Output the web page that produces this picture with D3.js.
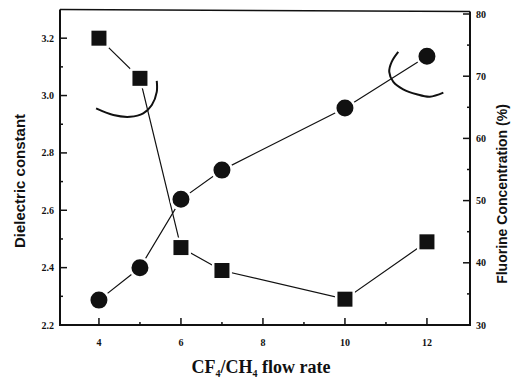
<!DOCTYPE html>
<html>
<head>
<meta charset="utf-8">
<script src="https://cdn.jsdelivr.net/npm/d3@7"></script>
<style>
  body { margin: 0; background: #fff; }
  .tick-label { font-family: "Liberation Serif", serif; font-weight: bold; font-size: 10px; fill: #111; }
  .axis-title { font-family: "Liberation Sans", Arial, sans-serif; font-weight: bold; fill: #111; }
</style>
</head>
<body>
<div id="wrapper"></div>
<script>
// data
const flowRate = [4, 5, 6, 7, 10, 12]
const dielectric = [3.20, 3.06, 2.47, 2.39, 2.29, 2.49]
const fluorine = [34.0, 39.2, 50.2, 54.9, 64.9, 73.2]

const xMajorTicks = [4, 6, 8, 10, 12]
const xMinorTicks = [5, 7, 9, 11]
const leftMajorTicks = [2.2, 2.4, 2.6, 2.8, 3.0, 3.2]
const leftMinorTicks = [2.3, 2.5, 2.7, 2.9, 3.1]
const rightMajorTicks = [30, 40, 50, 60, 70, 80]
const rightMinorTicks = [35, 45, 55, 65, 75]

// hand drawn hooks that point each series to its axis (data units)
const hookLeft = [[3.93, 2.955], [4.35, 2.932], [4.76, 2.926], [5.08, 2.938], [5.29, 2.967], [5.41, 3.013], [5.41, 3.051]]
const hookRight = [[11.30, 73.9], [11.14, 72.3], [11.08, 70.7], [11.18, 69.1], [11.42, 67.9], [11.75, 67.1], [12.07, 66.7], [12.40, 67.35]]

function drawChart() {
  const dimensions = {
    width: 520,
    height: 380,
    left: 60,
    right: 470,
    top: 9.5,
    bottom: 325,
  }

  const svg = d3.select("#wrapper")
    .append("svg")
      .attr("width", dimensions.width)
      .attr("height", dimensions.height)

  // scales
  const xScale = d3.scaleLinear()
    .domain([3.05, 13.05])
    .range([dimensions.left, dimensions.right])

  const yLeft = d3.scaleLinear()
    .domain([2.2, 3.3])
    .range([dimensions.bottom, dimensions.top])

  const yRight = d3.scaleLinear()
    .domain([30, 80])
    .range([dimensions.bottom, 14])

  // frame
  const frame = svg.append("g").attr("stroke", "#111").attr("fill", "none")
  frame.append("line")
    .attr("x1", dimensions.left).attr("x2", dimensions.right)
    .attr("y1", dimensions.top).attr("y2", dimensions.top + 2)
    .attr("stroke-width", 1.6)
  frame.append("line")
    .attr("x1", dimensions.left - 1).attr("x2", dimensions.right + 1)
    .attr("y1", dimensions.bottom).attr("y2", dimensions.bottom)
    .attr("stroke-width", 2)
  frame.append("line")
    .attr("x1", dimensions.left).attr("x2", dimensions.left)
    .attr("y1", dimensions.top).attr("y2", dimensions.bottom)
    .attr("stroke-width", 2)
  frame.append("line")
    .attr("x1", dimensions.right).attr("x2", dimensions.right)
    .attr("y1", dimensions.top + 2).attr("y2", dimensions.bottom)
    .attr("stroke-width", 2)

  // ticks, all pointing inwards
  const ticks = svg.append("g").attr("stroke", "#111").attr("stroke-width", 1.5)
  ticks.selectAll(".x-major").data(xMajorTicks).join("line")
    .attr("x1", xScale).attr("x2", xScale)
    .attr("y1", dimensions.bottom).attr("y2", dimensions.bottom - 7)
  ticks.selectAll(".x-minor").data(xMinorTicks).join("line")
    .attr("x1", xScale).attr("x2", xScale)
    .attr("y1", dimensions.bottom).attr("y2", dimensions.bottom - 3)
  ticks.selectAll(".l-major").data(leftMajorTicks).join("line")
    .attr("y1", yLeft).attr("y2", yLeft)
    .attr("x1", dimensions.left).attr("x2", dimensions.left + 7)
  ticks.selectAll(".l-minor").data(leftMinorTicks).join("line")
    .attr("y1", yLeft).attr("y2", yLeft)
    .attr("x1", dimensions.left).attr("x2", dimensions.left + 3)
  ticks.selectAll(".r-major").data(rightMajorTicks).join("line")
    .attr("y1", yRight).attr("y2", yRight)
    .attr("x1", dimensions.right).attr("x2", dimensions.right - 7)
  ticks.selectAll(".r-minor").data(rightMinorTicks).join("line")
    .attr("y1", yRight).attr("y2", yRight)
    .attr("x1", dimensions.right).attr("x2", dimensions.right - 3)

  // tick labels
  svg.selectAll(".x-label").data(xMajorTicks).join("text")
    .attr("class", "tick-label")
    .attr("x", xScale)
    .attr("y", dimensions.bottom + 21)
    .attr("text-anchor", "middle")
    .text(d => d)
  svg.selectAll(".l-label").data(leftMajorTicks).join("text")
    .attr("class", "tick-label")
    .attr("x", dimensions.left - 6)
    .attr("y", d => yLeft(d) + 3.5)
    .attr("text-anchor", "end")
    .text(d3.format(".1f"))
  svg.selectAll(".r-label").data(rightMajorTicks).join("text")
    .attr("class", "tick-label")
    .attr("x", dimensions.right + 6)
    .attr("y", d => yRight(d) + 3.5)
    .text(d => d)

  // axis titles
  svg.append("text")
    .attr("class", "axis-title")
    .attr("transform", `translate(25, 181) rotate(-90)`)
    .attr("text-anchor", "middle")
    .style("font-size", "15px")
    .text("Dielectric constant")

  svg.append("text")
    .attr("class", "axis-title")
    .attr("transform", `translate(507, 194) rotate(-90)`)
    .attr("text-anchor", "middle")
    .style("font-size", "14px")
    .text("Fluorine Concentration (%)")

  const xTitle = svg.append("text")
    .attr("x", 261)
    .attr("y", 373)
    .attr("text-anchor", "middle")
    .style("font-family", "'Liberation Serif', serif")
    .style("font-weight", "bold")
    .style("font-size", "18px")
    .style("fill", "#111")
  xTitle.append("tspan").text("CF")
  xTitle.append("tspan").attr("dy", 4).style("font-size", "10px").text("4")
  xTitle.append("tspan").attr("dy", -4).text("/CH")
  xTitle.append("tspan").attr("dy", 4).style("font-size", "10px").text("4")
  xTitle.append("tspan").attr("dy", -4).text(" flow rate")

  // series lines
  const dielectricLine = d3.line()
    .x((d, i) => xScale(flowRate[i]))
    .y(d => yLeft(d))
  const fluorineLine = d3.line()
    .x((d, i) => xScale(flowRate[i]))
    .y(d => yRight(d))

  svg.append("path")
    .attr("d", dielectricLine(dielectric))
    .attr("fill", "none")
    .attr("stroke", "#111")
    .attr("stroke-width", 1.2)
  svg.append("path")
    .attr("d", fluorineLine(fluorine))
    .attr("fill", "none")
    .attr("stroke", "#111")
    .attr("stroke-width", 1.2)

  // hooks
  const hookLeftLine = d3.line()
    .x(d => xScale(d[0]))
    .y(d => yLeft(d[1]))
    .curve(d3.curveCatmullRom)
  const hookRightLine = d3.line()
    .x(d => xScale(d[0]))
    .y(d => yRight(d[1]))
    .curve(d3.curveCatmullRom)
  svg.append("path")
    .attr("d", hookLeftLine(hookLeft))
    .attr("fill", "none").attr("stroke", "#111").attr("stroke-width", 2)
  svg.append("path")
    .attr("d", hookRightLine(hookRight))
    .attr("fill", "none").attr("stroke", "#111").attr("stroke-width", 2)

  // markers, with a thin white halo so lines stop short of them
  const halo = 2.5
  const squareSize = 15 + halo
  svg.selectAll(".square").data(dielectric).join("rect")
    .attr("x", (d, i) => xScale(flowRate[i]) - squareSize / 2)
    .attr("y", d => yLeft(d) - squareSize / 2)
    .attr("width", squareSize)
    .attr("height", squareSize)
    .attr("fill", "#111")
    .attr("stroke", "#fff")
    .attr("stroke-width", halo)

  svg.selectAll(".dot").data(fluorine).join("circle")
    .attr("cx", (d, i) => xScale(flowRate[i]))
    .attr("cy", d => yRight(d))
    .attr("r", 8.5 + halo / 2)
    .attr("fill", "#111")
    .attr("stroke", "#fff")
    .attr("stroke-width", halo)
}
drawChart()
</script>
</body>
</html>
